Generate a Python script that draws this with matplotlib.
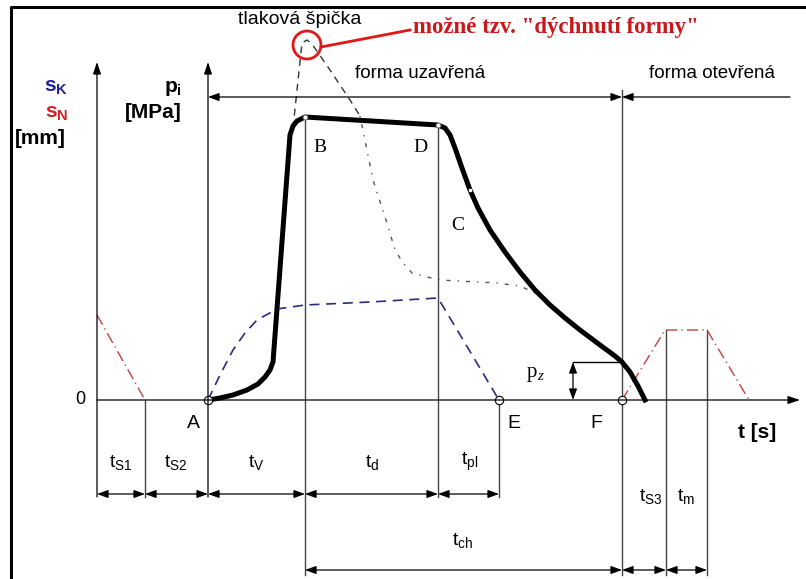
import matplotlib
matplotlib.use("Agg")
import matplotlib.pyplot as plt
from matplotlib.patches import Circle

plt.rcParams['font.family'] = ['Liberation Sans', 'DejaVu Sans']
plt.rcParams['mathtext.fontset'] = 'custom'
plt.rcParams['mathtext.rm'] = 'Liberation Sans'
plt.rcParams['mathtext.it'] = 'Liberation Sans:italic'
plt.rcParams['mathtext.bf'] = 'Liberation Sans:bold'

# key times (arbitrary units, A = 0)
t_s_axis = -11.1
t_s1_end = -6.3
t_A, t_B, t_D, t_E, t_F = 0.0, 9.7, 23.0, 29.1, 41.4
t_s3_end, t_m_end = 45.8, 49.9
t_axis_end = 59.2
p_axis_top = 33.8
p_row1, p_row2 = -9.4, -17.0
p_bottom1, p_bottom2 = -9.7, -17.5
p_mold = 30.3

# cavity pressure p_i
press_t = [0, 1.2, 2.5, 3.9, 5.0, 5.7, 6.2, 6.5, 8.2, 8.5, 8.9, 9.7,
           23.0, 23.7, 24.2, 24.7, 25.4, 26.2, 27.0, 28.2, 29.7, 31.2, 32.7,
           34.2, 35.7, 37.2, 39.2, 40.7, 41.4, 42.2, 43.0, 43.7]
press_p = [0, 0.2, 0.5, 1.0, 1.6, 2.3, 3.0, 3.8, 26.5, 27.4, 27.9, 28.3,
           27.5, 27.2, 26.5, 25.2, 23.2, 21.0, 19.2, 17.0, 14.8, 12.8, 11.0,
           9.5, 8.2, 7.0, 5.5, 4.4, 3.8, 2.8, 1.4, 0]

# pressure peak (dashed) and its dotted continuation
peak_t = [8.5, 8.9, 9.4, 9.9, 10.4, 12.2, 14.2, 15.2]
peak_p = [27.2, 31.0, 35.7, 36.0, 35.6, 33.0, 30.0, 28.4]
tail_t = [15.2, 16.5, 17.9, 18.7, 19.5, 20.4, 21.9, 23.2, 28.9, 31.2, 32.7]
tail_p = [28.4, 22.0, 17.7, 15.0, 13.7, 12.7, 12.3, 12.0, 11.7, 11.4, 10.7]

# screw stroke s_K
sk_t = [0, 1.2, 2.5, 3.7, 4.9, 6.9, 9.7, 16.2, 23.0, 29.1]
sk_p = [0, 2.5, 5.0, 6.7, 8.0, 9.1, 9.5, 9.8, 10.2, 0]

# nozzle stroke s_N
sn1_t = [-11.1, -6.3]
sn1_p = [8.5, 0]
sn2_t = [41.4, 45.7, 49.9, 54.1]
sn2_p = [0, 7.0, 7.0, 0]

p_z = 3.8
t_pz = 36.5

fig = plt.figure(figsize=(8.06, 5.79), dpi=100)
ax = fig.add_axes([0, 0, 1, 1])
ax.set_xlim(-20.8, 59.8)
ax.set_ylim(-17.9, 40.0)
ax.axis('off')

LC = '#444444'
ARR = '<|-|>,head_length=0.55,head_width=0.2'


def arrow(x0, y0, x1, y1, style=ARR, lw=0.9):
    ax.annotate('', xy=(x1, y1), xytext=(x0, y0),
                arrowprops=dict(arrowstyle=style, color='k', lw=lw,
                                mutation_scale=12, shrinkA=0, shrinkB=0))


# frame
ax.plot([-19.7, -19.7, 59.8], [-17.9, 39.3, 39.3], color='k', lw=2.2,
        solid_capstyle='butt')

# axes
arrow(t_s_axis, p_bottom1, t_s_axis, p_axis_top, style='-|>,head_length=0.6,head_width=0.2')
arrow(t_A, p_bottom1, t_A, p_axis_top, style='-|>,head_length=0.6,head_width=0.2')
arrow(t_s_axis, 0, t_axis_end, 0, style='-|>,head_length=0.6,head_width=0.2')

# vertical guide lines
ax.plot([t_s1_end, t_s1_end], [0, p_bottom1], color=LC, lw=1)
ax.plot([t_B, t_B], [28.3, p_bottom2], color=LC, lw=1)
ax.plot([t_D, t_D], [27.5, p_bottom1], color=LC, lw=1)
ax.plot([t_E, t_E], [0, p_bottom1], color=LC, lw=1)
ax.plot([t_F, t_F], [31.0, p_bottom2], color=LC, lw=1)
ax.plot([t_s3_end, t_s3_end], [7.0, p_bottom2], color=LC, lw=1)
ax.plot([t_m_end, t_m_end], [7.0, p_bottom2], color=LC, lw=1)

# mould closed / open
arrow(t_A, p_mold, t_F, p_mold)
arrow(58.2, p_mold, t_F, p_mold, style='-|>,head_length=0.55,head_width=0.2')
ax.text(21.2, 32.6, 'forma uzavřená', fontsize=13.5, ha='center', va='center')
ax.text(50.4, 32.6, 'forma otevřená', fontsize=13.5, ha='center', va='center')

# dimension rows
row1 = [t_s_axis, t_s1_end, t_A, t_B, t_D, t_E]
for a, b in zip(row1[:-1], row1[1:]):
    arrow(a, p_row1, b, p_row1)
row2 = [t_B, t_F, t_s3_end, t_m_end]
for a, b in zip(row2[:-1], row2[1:]):
    arrow(a, p_row2, b, p_row2)

lab_fs = 14
ax.text(-8.7, -6.2, r'$\mathregular{t_{S1}}$', fontsize=lab_fs, ha='center', va='center')
ax.text(-3.2, -6.2, r'$\mathregular{t_{S2}}$', fontsize=lab_fs, ha='center', va='center')
ax.text(4.8, -6.2, r'$\mathregular{t_{V}}$', fontsize=lab_fs, ha='center', va='center')
ax.text(16.4, -6.2, r'$\mathregular{t_{d}}$', fontsize=lab_fs, ha='center', va='center')
ax.text(26.2, -6.2, r'$\mathregular{t_{pl}}$', fontsize=lab_fs, ha='center', va='center')
ax.text(25.5, -14.1, r'$\mathregular{t_{ch}}$', fontsize=lab_fs, ha='center', va='center')
ax.text(44.3, -9.7, r'$\mathregular{t_{S3}}$', fontsize=lab_fs, ha='center', va='center')
ax.text(47.8, -9.7, r'$\mathregular{t_{m}}$', fontsize=lab_fs, ha='center', va='center')

# curves
ax.plot(sn1_t, sn1_p, color='#c04040', lw=1, ls=(0, (8, 3, 1, 3)))
ax.plot(sn2_t, sn2_p, color='#c04040', lw=1, ls=(0, (8, 3, 1, 3)))
ax.plot(sk_t, sk_p, color='#2b2b80', lw=1.2, ls=(0, (6, 4)))
ax.plot(peak_t, peak_p, color='#333333', lw=1, ls=(0, (5, 4)))
ax.plot(tail_t, tail_p, color='#555555', lw=1, ls=(0, (1, 5, 3, 5)))
ax.plot(press_t, press_p, color='k', lw=3.6, solid_joinstyle='round')

# p_z
ax.plot([t_pz, t_F], [p_z, p_z], color='k', lw=1)
arrow(t_pz, 0, t_pz, p_z)
ax.text(32.9, 2.7, 'p', fontsize=15, ha='right', va='center',
        family='Liberation Serif')
ax.text(32.9, 2.3, 'z', fontsize=11, ha='left', va='center',
        family='Liberation Serif', style='italic')

# markers
ax.plot([t_A, t_E, t_F], [0, 0, 0], 'o', ms=6, mfc='white', mec='k', mew=0.8)
ax.plot([t_B, t_D], [28.3, 27.5], 'o', ms=3.5, mfc='white', mec='#666666', mew=0.6)
ax.plot([26.2], [21.0], 's', ms=2, mfc='white', mec='white')

# point labels
ax.text(11.2, 25.3, 'B', fontsize=14, family='Liberation Serif', ha='center', va='center')
ax.text(21.2, 25.3, 'D', fontsize=14, family='Liberation Serif', ha='center', va='center')
ax.text(25.0, 17.4, 'C', fontsize=14, family='Liberation Serif', ha='center', va='center')
ax.text(-1.5, -2.3, 'A', fontsize=14, ha='center', va='center')
ax.text(30.6, -2.3, 'E', fontsize=14, ha='center', va='center')
ax.text(38.8, -2.3, 'F', fontsize=14, ha='center', va='center')
ax.text(54.9, -3.2, 't [s]', fontsize=15, fontweight='bold', ha='center', va='center')
ax.text(-12.8, 0, '0', fontsize=13, ha='center', va='center')

# axis titles
ax.text(-14.0, 31.2, r'$\mathbf{s_K}$', fontsize=15, color='#2020a0', ha='right', va='center')
ax.text(-14.0, 28.6, r'$\mathbf{s_N}$', fontsize=15, color='#d02020', ha='right', va='center')
ax.text(-19.3, 26.2, '[mm]', fontsize=15, fontweight='bold', ha='left', va='center')
ax.text(-2.6, 31.2, r'$\mathbf{p_i}$', fontsize=15, ha='right', va='center')
ax.text(-2.6, 28.8, '[MPa]', fontsize=15, fontweight='bold', ha='right', va='center')

# pressure peak note
ax.text(9.2, 38.0, 'tlaková špička', fontsize=14, ha='center', va='center')
ax.add_patch(Circle((9.9, 35.5), 1.4, fill=False, ec='#e01818', lw=2))
ax.plot([11.3, 20.2], [35.3, 37.0], color='#e01818', lw=2)
ax.text(20.5, 37.2, 'možné tzv. "dýchnutí formy"', fontsize=16.5, fontweight='bold',
        family='Liberation Serif', color='#c81818', ha='left', va='center')

fig.savefig('out.png', dpi=100)
